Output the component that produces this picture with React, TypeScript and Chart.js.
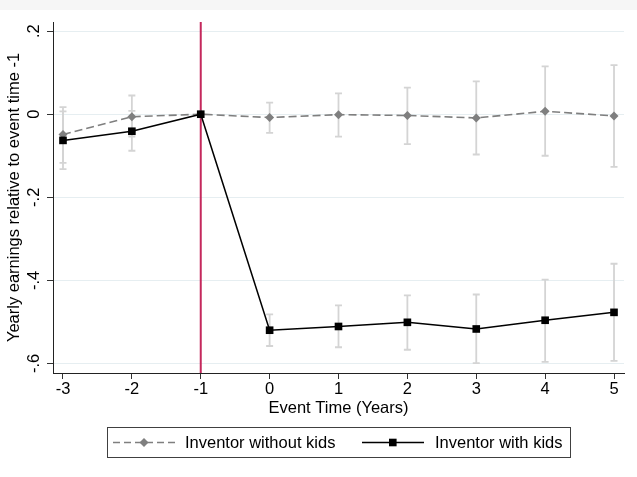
import React, { useEffect, useRef } from "react";
import { Chart, registerables } from "chart.js";

Chart.register(...registerables);

// ---- data ----
const eventTimes = [-3, -2, -1, 0, 1, 2, 3, 4, 5];
const withoutKids = [-0.049, -0.006, 0, -0.008, -0.001, -0.003, -0.009, 0.007, -0.004];
const withoutKidsLow = [-0.117, -0.054, 0, -0.045, -0.054, -0.072, -0.097, -0.1, -0.127];
const withoutKidsHigh = [0.017, 0.045, 0, 0.028, 0.05, 0.064, 0.079, 0.115, 0.118];
const withKids = [-0.063, -0.041, 0, -0.52, -0.511, -0.501, -0.517, -0.496, -0.477];
const withKidsLow = [-0.132, -0.088, 0, -0.558, -0.561, -0.567, -0.599, -0.596, -0.594];
const withKidsHigh = [0.007, 0.008, 0, -0.482, -0.46, -0.436, -0.434, -0.398, -0.36];
const yTickValues = [-0.6, -0.4, -0.2, 0, 0.2];
const yTickLabels = ["-.6", "-.4", "-.2", "0", ".2"];
const xTickValues = [-3, -2, -1, 0, 1, 2, 3, 4, 5];
const eventLineX = -1;
const seriesNames = ["Inventor without kids", "Inventor with kids"];
const xTitle = "Event Time (Years)";
const yTitle = "Yearly earnings relative to event time -1";

const FONT = "'Liberation Sans', Arial, Helvetica, sans-serif";
const FS = 16.5;
const GRAY = "#7f7f7f";
const ERR = "#d4d4d4";
const RED = "#c4285c";

const bgPlugin = {
  id: "bg",
  beforeDraw(chart: any) {
    const { ctx, width, height } = chart;
    ctx.save();
    ctx.fillStyle = "#ffffff";
    ctx.fillRect(0, 0, width, height);
    ctx.fillStyle = "#f6f6f6";
    ctx.fillRect(0, 0, width, 10);
    ctx.restore();
  },
};

const errPlugin = {
  id: "errbars",
  beforeDatasetsDraw(chart: any) {
    const { ctx, chartArea, scales } = chart;
    const xs = scales.x;
    const ys = scales.y;
    ctx.save();
    // vertical event line
    const ex = xs.getPixelForValue(eventLineX);
    ctx.strokeStyle = RED;
    ctx.lineWidth = 2;
    ctx.beginPath();
    ctx.moveTo(ex, chartArea.top);
    ctx.lineTo(ex, chartArea.bottom);
    ctx.stroke();
    // error bars
    ctx.strokeStyle = ERR;
    ctx.lineWidth = 1.8;
    const draw = (lo: number[], hi: number[]) => {
      eventTimes.forEach((t, i) => {
        if (lo[i] === hi[i]) return;
        const x = xs.getPixelForValue(t);
        const y1 = ys.getPixelForValue(lo[i]);
        const y2 = ys.getPixelForValue(hi[i]);
        ctx.beginPath();
        ctx.moveTo(x, y1);
        ctx.lineTo(x, y2);
        ctx.moveTo(x - 3.5, y1);
        ctx.lineTo(x + 3.5, y1);
        ctx.moveTo(x - 3.5, y2);
        ctx.lineTo(x + 3.5, y2);
        ctx.stroke();
      });
    };
    draw(withoutKidsLow, withoutKidsHigh);
    draw(withKidsLow, withKidsHigh);
    ctx.restore();
  },
};

const legendPlugin = {
  id: "customLegend",
  afterDraw(chart: any) {
    const { ctx } = chart;
    ctx.save();
    const bx = 107.5, by = 427.5, bw = 463, bh = 30;
    ctx.fillStyle = "#ffffff";
    ctx.fillRect(bx, by, bw, bh);
    ctx.strokeStyle = "#404040";
    ctx.lineWidth = 1;
    ctx.strokeRect(bx, by, bw, bh);
    const cy = by + bh / 2;
    // item 1
    ctx.strokeStyle = GRAY;
    ctx.lineWidth = 1.5;
    ctx.setLineDash([7, 4]);
    ctx.beginPath();
    ctx.moveTo(113, cy);
    ctx.lineTo(176, cy);
    ctx.stroke();
    ctx.setLineDash([]);
    ctx.fillStyle = GRAY;
    ctx.beginPath();
    ctx.moveTo(144, cy - 4.5);
    ctx.lineTo(148.5, cy);
    ctx.lineTo(144, cy + 4.5);
    ctx.lineTo(139.5, cy);
    ctx.closePath();
    ctx.fill();
    // item 2
    ctx.strokeStyle = "#000";
    ctx.beginPath();
    ctx.moveTo(362, cy);
    ctx.lineTo(424, cy);
    ctx.stroke();
    ctx.fillStyle = "#000";
    ctx.fillRect(389, cy - 3.8, 7.6, 7.6);
    // texts
    ctx.fillStyle = "#000";
    ctx.font = `${FS}px ${FONT}`;
    ctx.textBaseline = "middle";
    ctx.textAlign = "left";
    ctx.fillText(seriesNames[0], 185, cy + 0.5);
    ctx.fillText(seriesNames[1], 435, cy + 0.5);
    ctx.restore();
  },
};

export default function App() {
  const ref = useRef<HTMLCanvasElement | null>(null);
  useEffect(() => {
    if (!ref.current) return;
    const chart = new Chart(ref.current, {
      type: "line",
      data: {
        datasets: [
          {
            label: seriesNames[1],
            data: eventTimes.map((t, i) => ({ x: t, y: withKids[i] })),
            borderColor: "#000",
            backgroundColor: "#000",
            borderWidth: 1.5,
            pointStyle: "rect",
            pointRadius: 5.4,
            pointBorderWidth: 0,
            pointBackgroundColor: "#000",
            tension: 0,
            order: 1,
          },
          {
            label: seriesNames[0],
            data: eventTimes.map((t, i) => ({ x: t, y: withoutKids[i] })),
            borderColor: GRAY,
            backgroundColor: GRAY,
            borderWidth: 1.6,
            borderDash: [8, 4],
            pointStyle: "rectRot",
            pointRadius: 4.5,
            pointBorderWidth: 0,
            pointBackgroundColor: GRAY,
            tension: 0,
            order: 2,
          },
        ],
      },
      options: {
        animation: false,
        responsive: false,
        devicePixelRatio: 1,
        layout: { padding: { left: 0, top: 22, right: 13, bottom: 0 } },
        plugins: {
          legend: { display: false },
          tooltip: { enabled: false },
        },
        scales: {
          x: {
            type: "linear",
            min: -3.145,
            max: 5.145,
            afterBuildTicks: (s: any) => {
              s.ticks = xTickValues.map((v) => ({ value: v }));
            },
            afterFit: (s: any) => {
              s.height = 104;
            },
            ticks: {
              autoSkip: false,
              maxRotation: 0,
              padding: 1,
              color: "#000",
              font: { family: FONT, size: FS },
              callback: (v: any) => String(v),
            },
            grid: {
              drawOnChartArea: false,
              tickLength: 6,
              tickColor: "#333",
              tickWidth: 1,
            },
            border: { color: "#222", width: 1 },
            title: {
              display: true,
              text: xTitle,
              color: "#000",
              font: { family: FONT, size: FS },
              padding: { top: 0, bottom: 59 },
            },
          },
          y: {
            type: "linear",
            min: -0.623,
            max: 0.222,
            afterBuildTicks: (s: any) => {
              s.ticks = yTickValues.map((v) => ({ value: v }));
            },
            afterFit: (s: any) => {
              s.width = 53;
            },
            ticks: {
              autoSkip: false,
              minRotation: 90,
              maxRotation: 90,
              crossAlign: "center",
              padding: 3,
              color: "#000",
              font: { family: FONT, size: FS },
              callback: (_v: any, i: number) => yTickLabels[i],
            },
            grid: {
              color: "#e6eef1",
              lineWidth: 1,
              tickLength: 6,
              tickColor: "#333",
              tickWidth: 1,
            },
            border: { color: "#222", width: 1 },
            title: {
              display: true,
              text: yTitle,
              color: "#000",
              font: { family: FONT, size: FS },
              padding: { top: 5, bottom: 0 },
            },
          },
        },
      },
      plugins: [bgPlugin, errPlugin, legendPlugin],
    } as any);
    return () => chart.destroy();
  }, []);
  return (
    <div style={{ position: "absolute", left: 0, top: 0, width: 637, height: 477 }}>
      <canvas ref={ref} width={637} height={477} style={{ display: "block" }} />
    </div>
  );
}
